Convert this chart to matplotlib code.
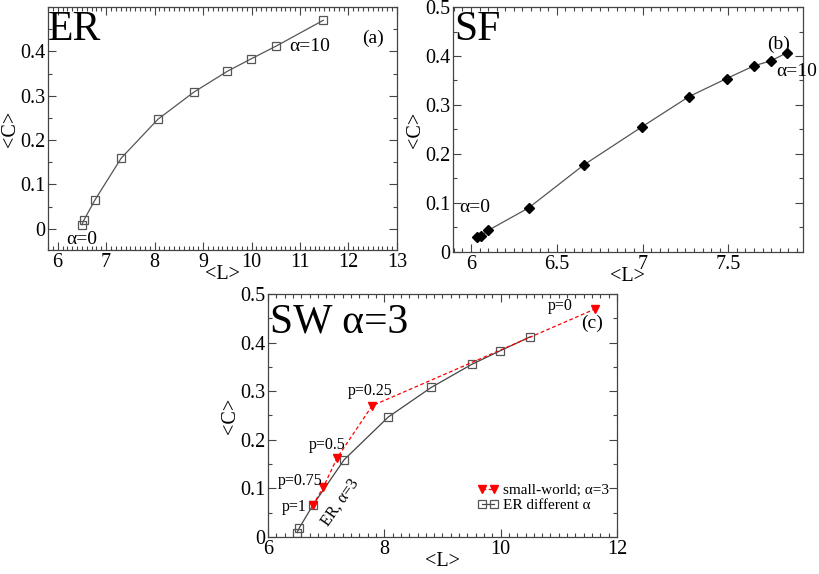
import numpy as np
import matplotlib
matplotlib.use("Agg")
import matplotlib.pyplot as plt
from matplotlib.ticker import MultipleLocator

plt.rcParams['font.family'] = ['Liberation Serif', 'DejaVu Serif']

# ER network, different alpha
er_L = [6.50, 6.54, 6.77, 7.31, 8.07, 8.81, 9.50, 9.99, 10.51, 11.48]
er_C = [0.009, 0.019, 0.065, 0.159, 0.247, 0.308, 0.355, 0.383, 0.412, 0.470]

# SF network, different alpha
sf_L = [6.037, 6.058, 6.10, 6.336, 6.659, 6.999, 7.27, 7.49, 7.65, 7.747, 7.844]
sf_C = [0.031, 0.033, 0.044, 0.090, 0.178, 0.256, 0.317, 0.354, 0.380, 0.390, 0.407]

# small-world, alpha=3, p = 1, 0.75, 0.5, 0.25, 0
sw_p = ['p=1', 'p=0.75', 'p=0.5', 'p=0.25', 'p=0']
sw_L = [6.77, 6.95, 7.19, 7.79, 11.62]
sw_C = [0.065, 0.102, 0.163, 0.270, 0.469]

fig = plt.figure(figsize=(8.2, 5.74), dpi=100)
ax_a = fig.add_axes([0.0585, 0.5645, 0.4256, 0.4233])
ax_b = fig.add_axes([0.5524, 0.5610, 0.4268, 0.4268])
ax_c = fig.add_axes([0.3268, 0.0645, 0.4256, 0.4233])

tick_fs = 14.5


def style(ax):
    ax.tick_params(which='both', direction='in', top=True, right=True,
                   labelsize=tick_fs, width=0.8, color='#444444', pad=2)
    ax.tick_params(which='major', length=6)
    ax.tick_params(which='minor', length=3)
    for s in ax.spines.values():
        s.set_color('#444444')
        s.set_linewidth(0.9)
    ax.set_xlabel('<L>', fontsize=tick_fs, labelpad=-5)
    ax.set_ylabel('<C>', fontsize=tick_fs, labelpad=0)


# (a) ER
ax_a.plot(er_L, er_C, color='#555555', lw=0.9, marker='s', ms=6,
          mfc='none', mec='#555555', mew=0.9)
ax_a.set_xlim(5.8, 13)
ax_a.set_ylim(-0.048, 0.5)
ax_a.set_xticks(np.arange(6, 14, 1))
ax_a.set_yticks([0, 0.1, 0.2, 0.3, 0.4])
ax_a.set_yticklabels(['0', '0.1', '0.2', '0.3', '0.4'])
ax_a.xaxis.set_minor_locator(MultipleLocator(0.1))
ax_a.yaxis.set_minor_locator(MultipleLocator(0.05))
style(ax_a)
ax_a.text(0.0, 0.985, 'ER', transform=ax_a.transAxes, fontsize=30, va='top', ha='left')
ax_a.text(12.5, 0.43, '(a)', fontsize=14, ha='center', va='center')
ax_a.text(11.2, 0.41, 'α=10', fontsize=14, ha='center', va='center')
ax_a.text(6.49, -0.025, 'α=0', fontsize=14, ha='center', va='center')

# (b) SF
ax_b.plot(sf_L, sf_C, color='#555555', lw=0.9, marker='D', ms=5,
          mfc='black', mec='black')
ax_b.set_xlim(5.895, 7.935)
ax_b.set_ylim(0, 0.5)
ax_b.set_xticks([6, 6.5, 7, 7.5])
ax_b.set_xticklabels(['6', '6.5', '7', '7.5'])
ax_b.set_yticks([0, 0.1, 0.2, 0.3, 0.4, 0.5])
ax_b.set_yticklabels(['0', '0.1', '0.2', '0.3', '0.4', '0.5'])
ax_b.xaxis.set_minor_locator(MultipleLocator(0.05))
ax_b.yaxis.set_minor_locator(MultipleLocator(0.05))
style(ax_b)
ax_b.text(0.005, 0.985, 'SF', transform=ax_b.transAxes, fontsize=30, va='top', ha='left')
ax_b.text(7.79, 0.423, '(b)', fontsize=14, ha='center', va='center')
ax_b.text(7.90, 0.368, 'α=10', fontsize=14, ha='center', va='center')
ax_b.text(6.02, 0.091, 'α=0', fontsize=14, ha='center', va='center')

# (c) SW alpha=3
ax_c.plot(sw_L, sw_C, color='red', lw=0.9, ls=(0, (3, 2)), marker='v', ms=6,
          mfc='red', mec='red', label='small-world; α=3', zorder=3)
ax_c.plot(er_L[:-1], er_C[:-1], color='#444444', lw=0.9, marker='s', ms=6,
          mfc='none', mec='#555555', mew=0.9, label='ER different α')
ax_c.set_xlim(6, 12)
ax_c.set_ylim(0, 0.5)
ax_c.set_xticks([6, 8, 10, 12])
ax_c.set_yticks([0, 0.1, 0.2, 0.3, 0.4, 0.5])
ax_c.set_yticklabels(['0', '0.1', '0.2', '0.3', '0.4', '0.5'])
ax_c.xaxis.set_minor_locator(MultipleLocator(2 / 14))
ax_c.yaxis.set_minor_locator(MultipleLocator(0.05))
style(ax_c)
ax_c.text(0.005, 0.965, 'SW α=3', transform=ax_c.transAxes, fontsize=30,
          va='top', ha='left')
ax_c.text(11.57, 0.439, '(c)', fontsize=14, ha='center', va='center')
p_pos = [(6.46, 0.062), (6.55, 0.115), (7.01, 0.19), (7.75, 0.30), (11.03, 0.476)]
for lab, (px, py) in zip(sw_p, p_pos):
    ax_c.text(px, py, lab, fontsize=11.5, ha='center', va='center')
ax_c.text(7.24, 0.072, 'ER, α=3', fontsize=11.5, ha='center', va='center',
          rotation=55)
leg = ax_c.legend(loc='upper left', bbox_to_anchor=(0.60, 0.22), frameon=False,
                  numpoints=2, fontsize=11, handlelength=1.4, handletextpad=0.25,
                  labelspacing=0.1, borderpad=0, borderaxespad=0, markerscale=0.85)

fig.savefig('out.png', dpi=100)
